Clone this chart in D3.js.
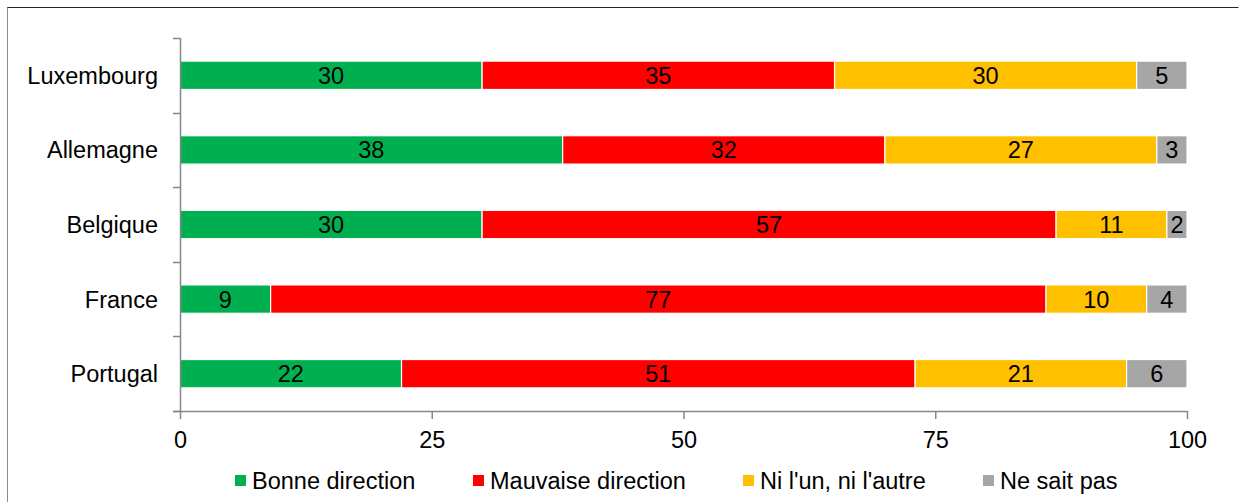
<!DOCTYPE html>
<html>
<head>
<meta charset="utf-8">
<script src="https://cdn.jsdelivr.net/npm/d3@7"></script>
<style>
  body { margin: 0; background: #fff; }
  text { font-family: "Liberation Sans", Arial, sans-serif; }
</style>
</head>
<body>
<div id="container"></div>
<script>
// données
const countries = ["Luxembourg", "Allemagne", "Belgique", "France", "Portugal"];
const seriesNames = ["Bonne direction", "Mauvaise direction", "Ni l'un, ni l'autre", "Ne sait pas"];
const bonne = [30, 38, 30, 9, 22];
const mauvaise = [35, 32, 57, 77, 51];
const niUnNiAutre = [30, 27, 11, 10, 21];
const neSaitPas = [5, 3, 2, 4, 6];
const xTicks = [0, 25, 50, 75, 100];
const colors = ["#00B050", "#FF0000", "#FFC000", "#A6A6A6"];

const W = 1239, H = 502;
const FS = 23.5;
const svg = d3.select("#container").append("svg")
    .attr("width", W).attr("height", H);

// cadre
svg.append("path")
    .attr("d", "M7.5,520V7.5H1238.5")
    .attr("fill", "none").attr("stroke", "#262626").attr("stroke-width", 1);
svg.append("line")
    .attr("x1", 7.5).attr("x2", 7.5).attr("y1", 8).attr("y2", 520)
    .attr("stroke", "#8a8a8a").attr("stroke-width", 1);

const x = d3.scaleLinear().domain([0, 100]).range([180, 1187]);
const y = d3.scaleBand().domain(countries).range([38, 411]).paddingInner(0.62).paddingOuter(0.31);

const rows = countries.map((c, i) => ({ c, vals: [bonne[i], mauvaise[i], niUnNiAutre[i], neSaitPas[i]] }));

// barres
rows.forEach(r => {
    let acc = 0;
    r.vals.forEach((v, k) => {
        const x0 = acc;
        acc += v;
        svg.append("rect")
            .attr("x", x(x0))
            .attr("y", y(r.c))
            .attr("width", x(acc) - x(x0))
            .attr("height", y.bandwidth())
            .attr("fill", colors[k])
            .attr("stroke", "#fff").attr("stroke-width", 1.2);
        svg.append("text")
            .attr("x", (x(x0) + x(acc)) / 2)
            .attr("y", y(r.c) + y.bandwidth() / 2)
            .attr("dy", "0.36em")
            .attr("text-anchor", "middle")
            .attr("font-size", FS)
            .attr("fill", "#000")
            .text(v);
    });
});

// axe y
const yEdges = d3.range(countries.length + 1).map(i => 38 + i * (373 / countries.length));
svg.append("line")
    .attr("x1", 180.5).attr("x2", 180.5).attr("y1", 38).attr("y2", 411)
    .attr("stroke", "#878787").attr("stroke-width", 1.5);
svg.selectAll(".ytick").data(yEdges).enter().append("line")
    .attr("x1", 173).attr("x2", 180.5)
    .attr("y1", d => Math.round(d) + 0.5).attr("y2", d => Math.round(d) + 0.5)
    .attr("stroke", "#878787").attr("stroke-width", 1.5);
svg.selectAll(".ylab").data(countries).enter().append("text")
    .attr("x", 158)
    .attr("y", d => y(d) + y.bandwidth() / 2)
    .attr("dy", "0.36em")
    .attr("text-anchor", "end")
    .attr("font-size", FS)
    .text(d => d);

// axe x
const xAxis = svg.append("g")
    .attr("transform", "translate(0,411)")
    .call(d3.axisBottom(x).tickValues(xTicks).tickSize(8).tickPadding(12).tickSizeOuter(0));
xAxis.select(".domain").attr("stroke", "#878787").attr("stroke-width", 1.5)
    .attr("d", "M173,0.5H1187.5");
xAxis.selectAll(".tick line").attr("stroke", "#878787").attr("stroke-width", 1.5);
xAxis.selectAll(".tick text")
    .attr("font-size", FS)
    .attr("font-family", "Liberation Sans, Arial, sans-serif")
    .attr("fill", "#000");

// légende
const legendX = [235, 473, 743, 983];
const legend = svg.selectAll(".leg").data(seriesNames).enter().append("g")
    .attr("transform", (d, i) => `translate(${legendX[i]},481)`);
legend.append("rect")
    .attr("x", 0).attr("y", -6).attr("width", 11).attr("height", 11)
    .attr("fill", (d, i) => colors[i]);
legend.append("text")
    .attr("x", 17).attr("y", 0).attr("dy", "0.36em")
    .attr("font-size", FS)
    .text(d => d);
</script>
</body>
</html>
